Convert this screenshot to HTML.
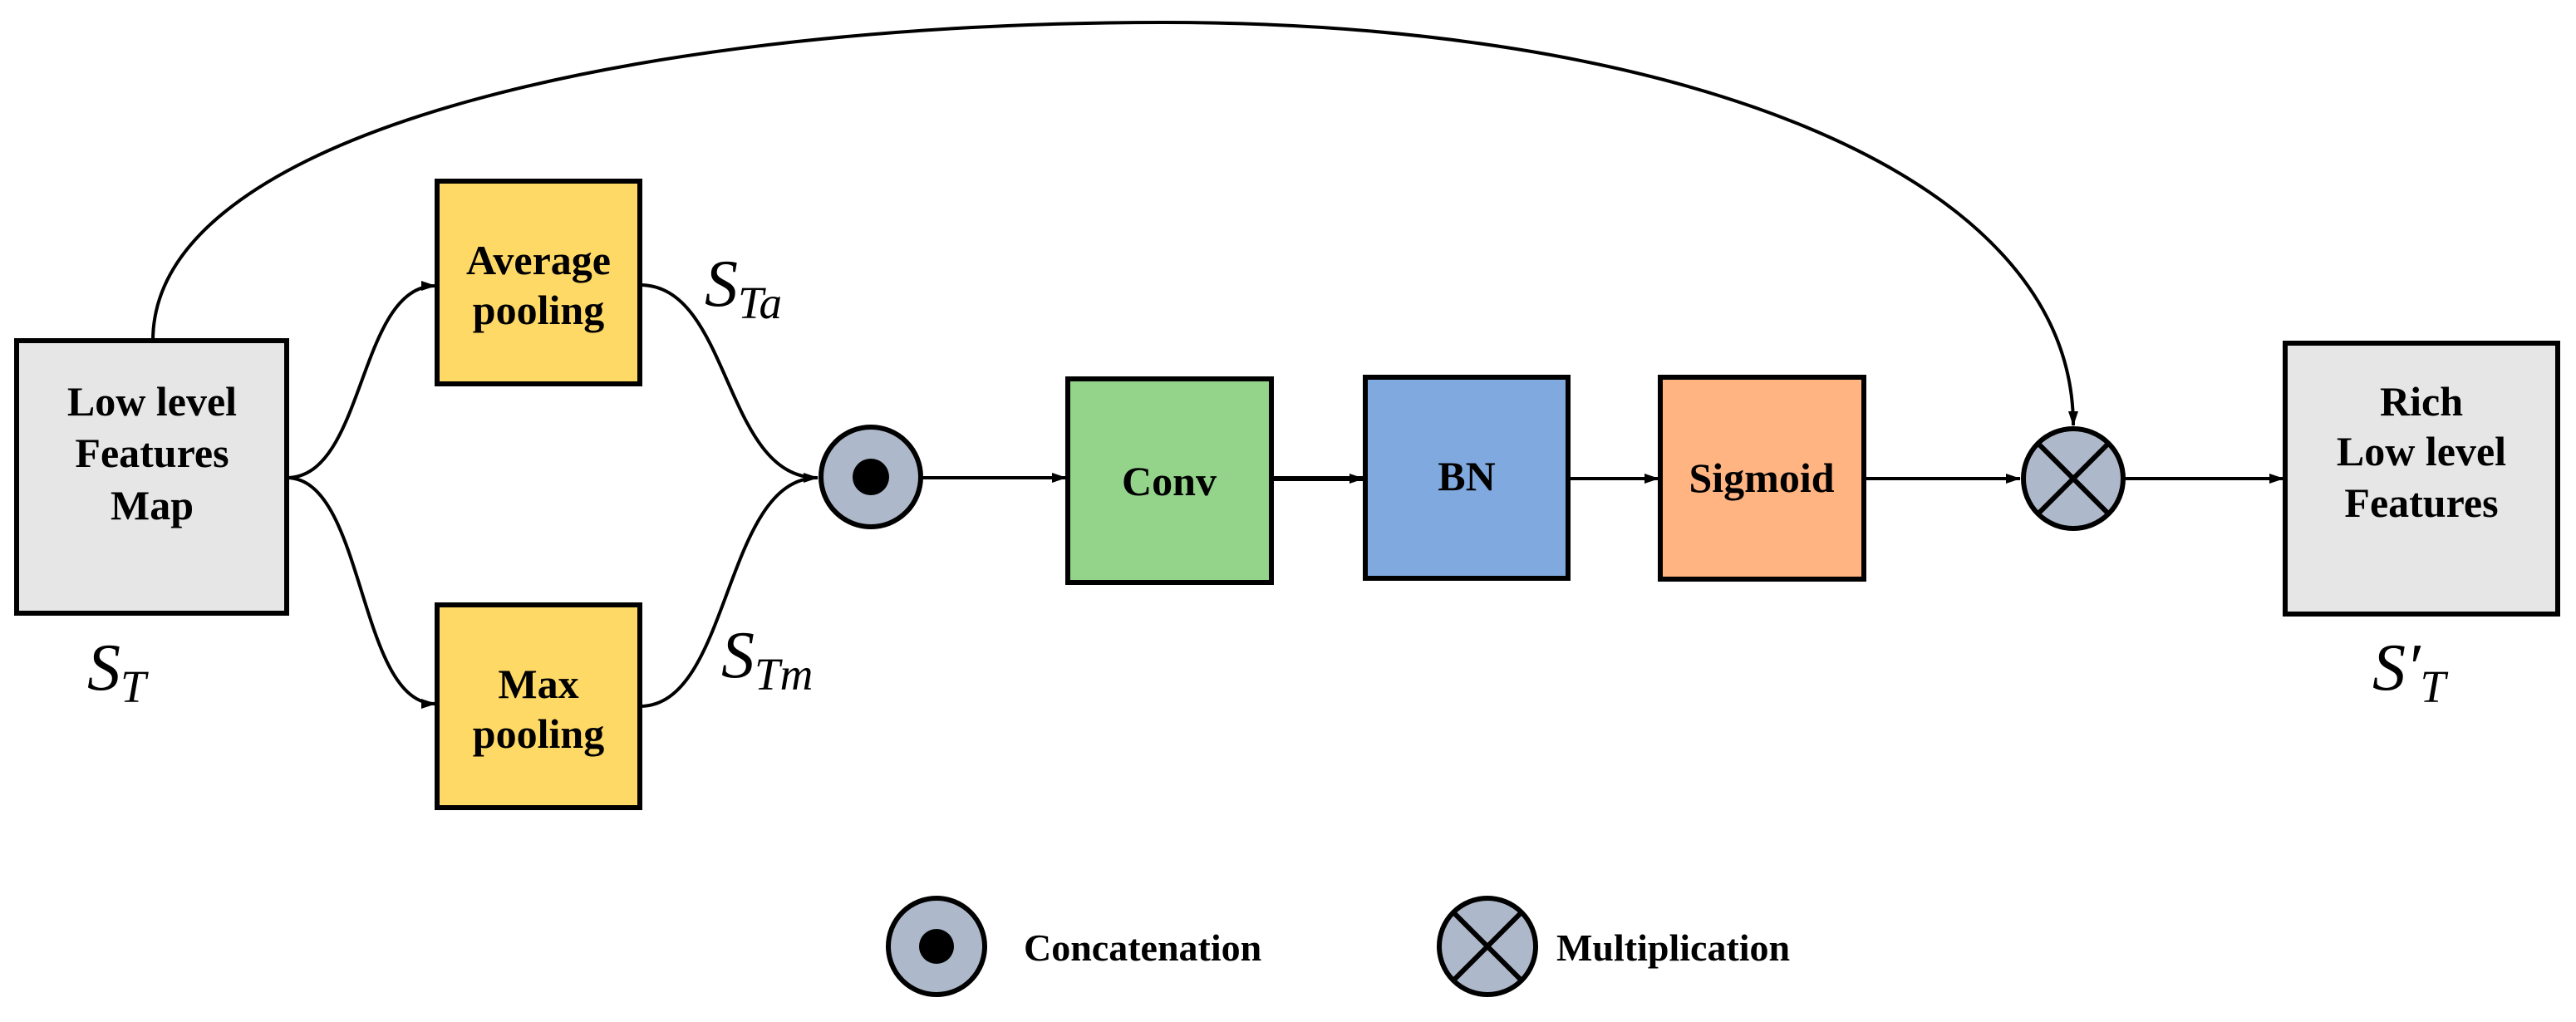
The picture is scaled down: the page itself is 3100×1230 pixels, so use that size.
<!DOCTYPE html>
<html><head><meta charset="utf-8"><style>
html,body{margin:0;padding:0;background:#fff}
svg{display:block}
.t{font-family:"Liberation Serif",serif;font-weight:bold;font-size:50px;text-anchor:middle}
.m{font-family:"Liberation Serif",serif;font-style:italic;font-size:80px}
.s{font-size:55px}
.l{font-family:"Liberation Serif",serif;font-weight:bold;font-size:46px}
</style></head><body>
<svg width="3100" height="1230" viewBox="0 0 3100 1230" xmlns="http://www.w3.org/2000/svg">
<defs><marker id="a" markerWidth="10" markerHeight="10" refX="9" refY="5" orient="auto" markerUnits="userSpaceOnUse"><path d="M0,1 L10,5 L0,9 z" fill="#000"/></marker>
<marker id="b" markerWidth="18" markerHeight="14" refX="17" refY="7" orient="auto" markerUnits="userSpaceOnUse"><path d="M0,1 L18,7 L0,13 z" fill="#000"/></marker></defs>
<g fill="none" stroke="#000" stroke-width="4">
<path d="M184,410 C184,150 800,27 1400,27 C2000,27 2495,200 2495,512" marker-end="url(#b)"/>
<path d="M345,575 C440,575 430,344 524,344" marker-end="url(#b)"/>
<path d="M345,575 C440,575 430,847 524,847" marker-end="url(#b)"/>
<path d="M770,343 C880,343 870,575 984,575" marker-end="url(#b)"/>
<path d="M770,850 C880,850 870,575 984,575"/>
<path d="M1110,575 L1283,575" marker-end="url(#b)"/>
<path d="M1530,576 L1641,576" stroke-width="6" marker-end="url(#b)"/>
<path d="M1887,576 L1996,576" marker-end="url(#b)"/>
<path d="M2243,576 L2431,576" marker-end="url(#b)"/>
<path d="M2557,576 L2748,576" marker-end="url(#b)"/>
</g>
<g stroke="#000" stroke-width="6">
<rect x="20" y="410" width="325" height="328" fill="#e7e6e6"/>
<rect x="526" y="218" width="244" height="244" fill="#ffd966"/>
<rect x="526" y="728" width="244" height="244" fill="#ffd966"/>
<rect x="1285" y="456" width="245" height="245" fill="#93d38a"/>
<rect x="1643" y="454" width="244" height="242" fill="#80aadf"/>
<rect x="1998" y="454" width="245" height="243" fill="#ffb482"/>
<rect x="2750" y="413" width="328" height="326" fill="#e7e6e6"/>
<circle cx="1048" cy="574" r="60" fill="#adb9ca"/>
<circle cx="2495" cy="576" r="60" fill="#adb9ca"/>
<circle cx="1127" cy="1139" r="58" fill="#adb9ca"/>
<circle cx="1790" cy="1139" r="58" fill="#adb9ca"/>
<path d="M2453,534 L2537,618 M2537,534 L2453,618 M1749,1098 L1831,1180 M1831,1098 L1749,1180" fill="none"/>
</g>
<circle cx="1048" cy="574" r="22" fill="#000"/>
<circle cx="1127" cy="1139" r="21" fill="#000"/>
<text class="t" x="183" y="500">Low level</text>
<text class="t" x="183" y="562">Features</text>
<text class="t" x="183" y="625">Map</text>
<text class="t" x="648" y="330">Average</text>
<text class="t" x="648" y="390">pooling</text>
<text class="t" x="648" y="840">Max</text>
<text class="t" x="648" y="900">pooling</text>
<text class="t" x="1407" y="596">Conv</text>
<text class="t" x="1765" y="590">BN</text>
<text class="t" x="2120" y="592">Sigmoid</text>
<text class="t" x="2914" y="500">Rich</text>
<text class="t" x="2914" y="560">Low level</text>
<text class="t" x="2914" y="622">Features</text>
<text class="m" x="105" y="830">S<tspan class="s" dy="15">T</tspan></text>
<text class="m" x="848" y="368">S<tspan class="s" dy="15">Ta</tspan></text>
<text class="m" x="868" y="815">S<tspan class="s" dy="15">Tm</tspan></text>
<text class="m" x="2855" y="830">S′<tspan class="s" dy="15">T</tspan></text>
<text class="l" x="1232" y="1156">Concatenation</text>
<text class="l" x="1873" y="1156">Multiplication</text>
</svg>
</body></html>
